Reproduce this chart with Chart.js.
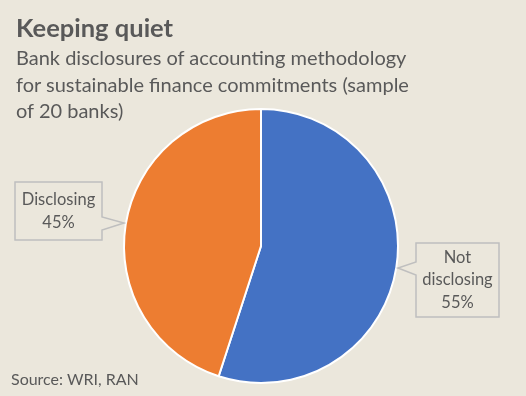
<!DOCTYPE html>
<html>
<head>
<meta charset="utf-8">
<script src="https://cdn.jsdelivr.net/npm/chart.js@4/dist/chart.umd.min.js"></script>
<style>
  html, body { margin: 0; padding: 0; background: #ebe7dc; }
  #wrap { position: relative; width: 526px; height: 396px; font-family: Lato, "Open Sans", sans-serif; color: #595959; }
  #chart { position: absolute; left: 0; top: 0; }
  .title { position: absolute; left: 16px; top: 12px; font-size: 25.5px; font-weight: bold; line-height: 30px; }
  .sub { position: absolute; left: 16px; top: 44px; font-size: 20px; line-height: 26.5px; width: 460px; white-space: nowrap; }
  .source { position: absolute; left: 11px; top: 369px; font-size: 16px; line-height: 19px; }
</style>
</head>
<body>
<div id="wrap">
  <canvas id="chart" width="526" height="396"></canvas>
  <div class="title">Keeping quiet</div>
  <div class="sub">Bank disclosures of accounting methodology<br>for sustainable finance commitments (sample<br>of 20 banks)</div>
  <div class="source">Source: WRI, RAN</div>
</div>
<script>
const categories = ['Not disclosing', 'Disclosing'];
const shares = [55, 45];
const colours = ['#4472c4', '#ed7d31'];

// callout boxes: rect + text lines, one per slice
const callouts = [
  { box: [416, 243, 83, 74], lines: ['Not', 'disclosing', '55%'], tip: [398, 268] },
  { box: [15, 182, 87, 58], lines: ['Disclosing', '45%'], tip: [124, 223] }
];

const calloutPlugin = {
  id: 'callouts',
  afterDatasetsDraw(chart) {
    const ctx = chart.ctx;
    const meta = chart.getDatasetMeta(0);
    ctx.save();
    meta.data.forEach((arc, i) => {
      const c = callouts[i];
      const [bx, by, bw, bh] = c.box;
      const [tipX, tipY] = c.tip;
      ctx.fillStyle = '#ebe7dc';
      ctx.strokeStyle = '#bfbfbf';
      ctx.lineWidth = 1.5;
      ctx.beginPath();
      if (i === 0) {
        ctx.moveTo(bx, by);
        ctx.lineTo(bx + bw, by);
        ctx.lineTo(bx + bw, by + bh);
        ctx.lineTo(bx, by + bh);
        ctx.lineTo(bx, by + 32);
        ctx.lineTo(tipX, tipY);
        ctx.lineTo(bx, by + 19);
      } else {
        ctx.moveTo(bx, by);
        ctx.lineTo(bx + bw, by);
        ctx.lineTo(bx + bw, by + 35);
        ctx.lineTo(tipX, tipY);
        ctx.lineTo(bx + bw, by + 48);
        ctx.lineTo(bx + bw, by + bh);
        ctx.lineTo(bx, by + bh);
      }
      ctx.closePath();
      ctx.fill();
      ctx.stroke();
      ctx.fillStyle = '#595959';
      ctx.font = '16.5px Lato, "Open Sans", sans-serif';
      ctx.textAlign = 'center';
      ctx.textBaseline = 'middle';
      const lh = 22.5;
      const y0 = by + bh / 2 - (c.lines.length - 1) * lh / 2;
      c.lines.forEach((t, k) => ctx.fillText(t, bx + bw / 2, y0 + k * lh));
    });
    ctx.restore();
  }
};

new Chart(document.getElementById('chart'), {
  type: 'pie',
  data: {
    labels: categories,
    datasets: [{
      data: shares,
      backgroundColor: colours,
      borderColor: '#ffffff',
      borderWidth: 2
    }]
  },
  options: {
    responsive: false,
    animation: false,
    layout: { padding: { left: 123, right: 127, top: 108, bottom: 12 } },
    plugins: {
      legend: { display: false },
      tooltip: { enabled: false }
    }
  },
  plugins: [calloutPlugin]
});
</script>
</body>
</html>
